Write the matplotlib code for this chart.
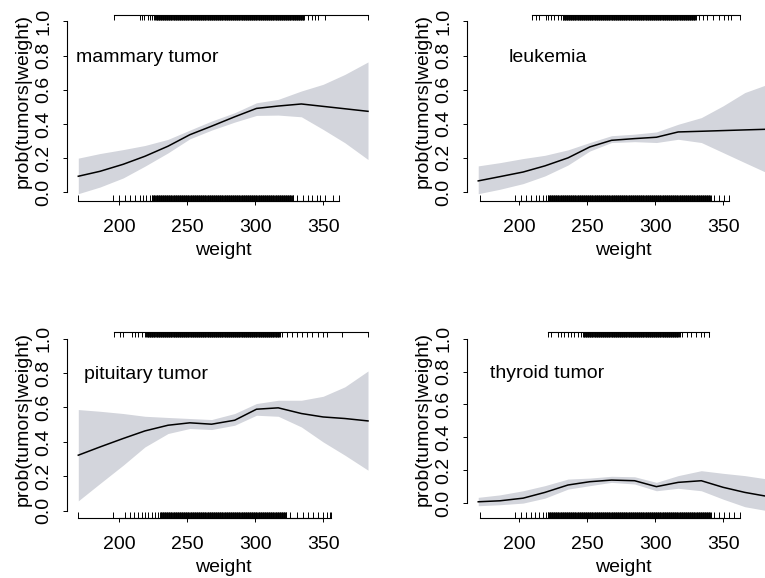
import numpy as np
import matplotlib
matplotlib.use("Agg")
import matplotlib.pyplot as plt

plt.rcParams['font.family'] = ['Liberation Sans', 'DejaVu Sans']

weight_grid = [170, 186, 203, 219, 236, 252, 268, 285, 301, 317, 334, 350, 366, 383]

mammary_fit = [0.094, 0.123, 0.164, 0.211, 0.27, 0.337, 0.387, 0.442, 0.491, 0.505, 0.517, 0.503, 0.489, 0.474]
mammary_upper = [0.20, 0.227, 0.25, 0.274, 0.31, 0.364, 0.417, 0.466, 0.524, 0.544, 0.593, 0.632, 0.69, 0.763]
mammary_lower = [-0.008, 0.031, 0.084, 0.153, 0.231, 0.313, 0.364, 0.411, 0.45, 0.452, 0.442, 0.368, 0.29, 0.192]

leukemia_fit = [0.065, 0.09, 0.117, 0.153, 0.20, 0.264, 0.303, 0.313, 0.321, 0.352, 0.356, 0.36, 0.364, 0.368]
leukemia_upper = [0.153, 0.172, 0.196, 0.215, 0.247, 0.29, 0.33, 0.339, 0.352, 0.397, 0.436, 0.505, 0.583, 0.632]
leukemia_lower = [-0.01, 0.016, 0.049, 0.094, 0.158, 0.24, 0.29, 0.295, 0.29, 0.309, 0.29, 0.231, 0.172, 0.11]

pituitary_fit = [0.323, 0.371, 0.42, 0.464, 0.497, 0.511, 0.503, 0.526, 0.59, 0.598, 0.565, 0.545, 0.536, 0.522]
pituitary_upper = [0.588, 0.578, 0.565, 0.549, 0.542, 0.536, 0.53, 0.565, 0.623, 0.642, 0.642, 0.665, 0.72, 0.812]
pituitary_lower = [0.058, 0.159, 0.265, 0.371, 0.449, 0.478, 0.472, 0.497, 0.555, 0.549, 0.487, 0.40, 0.323, 0.236]

thyroid_fit = [0.008, 0.014, 0.03, 0.065, 0.11, 0.13, 0.14, 0.136, 0.10, 0.126, 0.136, 0.096, 0.065, 0.04]
thyroid_upper = [0.035, 0.05, 0.075, 0.106, 0.146, 0.152, 0.163, 0.16, 0.126, 0.167, 0.197, 0.181, 0.167, 0.146]
thyroid_lower = [-0.016, -0.01, 0.0, 0.03, 0.085, 0.106, 0.126, 0.116, 0.075, 0.09, 0.075, 0.024, -0.022, -0.047]

# rug weights: isolated ticks plus the solid dense stretch (start, stop)
mammary_yes = [196.5, 215, 216.6, 218.6, 221, 223, 224.5, 339, 341.7, 344, 346.6, 351.5, 383]
mammary_yes_dense = (226, 336)
mammary_no = [170, 195.8, 200.2, 204.4, 208, 211.8, 215, 217.4, 219.9, 222.8,
              330.7, 335.5, 339.2, 341.7, 345.4, 347.8, 351.5, 357.6, 362]
mammary_no_dense = (224, 328)

leukemia_yes = [209.7, 212.7, 215, 219.5, 221.2, 223.6, 226, 228.5, 230.5,
                332, 335, 338, 342.8, 346.8, 350.5, 353.7, 356.1, 362.7]
leukemia_yes_dense = (232, 330)
leukemia_no = [171.2, 196.8, 201.2, 205.3, 209, 212.7, 215, 217.6, 220,
               343.2, 346.8, 350.5, 354.2]
leukemia_no_dense = (221, 341)

pituitary_yes = [196.6, 200.7, 203.2, 209.3, 211.8, 214.2, 216.7, 219.1,
                 319.6, 323.3, 327, 330.7, 334.3, 338, 341.7, 346.5, 350.2, 352.7, 363.7, 383.3]
pituitary_yes_dense = (220, 318)
pituitary_no = [170, 195.8, 204.4, 208, 211, 214.2, 216.7, 219.1, 221.5, 224, 226.5, 228.9,
                325.7, 330.6, 335.5, 339.2, 342.8, 346.5, 350.2, 352.7, 355.1, 356]
pituitary_no_dense = (230, 323)

thyroid_yes = [221.2, 223.6, 228.5, 231, 233.4, 235.9, 238.3, 240.7, 243.2, 245.6,
               320, 323.7, 326.1, 329.8, 333.5, 335.9, 339.5, 340]
thyroid_yes_dense = (247, 318)
thyroid_no = [171.2, 196.8, 201.7, 205.3, 209, 211.9, 215, 217.6, 220,
              343.2, 346.8, 350.5, 354.2, 357.8, 362.5]
thyroid_no_dense = (221, 341)

panels = [
    ("mammary tumor", 168, mammary_fit, mammary_upper, mammary_lower,
     mammary_yes, mammary_yes_dense, mammary_no, mammary_no_dense),
    ("leukemia", 192, leukemia_fit, leukemia_upper, leukemia_lower,
     leukemia_yes, leukemia_yes_dense, leukemia_no, leukemia_no_dense),
    ("pituitary tumor", 174, pituitary_fit, pituitary_upper, pituitary_lower,
     pituitary_yes, pituitary_yes_dense, pituitary_no, pituitary_no_dense),
    ("thyroid tumor", 178.5, thyroid_fit, thyroid_upper, thyroid_lower,
     thyroid_yes, thyroid_yes_dense, thyroid_no, thyroid_no_dense),
]

fig = plt.figure(figsize=(7.65, 5.78), dpi=100)
positions = [(0.0872, 0.653), (0.610, 0.653), (0.0872, 0.1043), (0.610, 0.1043)]
width, height = 0.409, 0.3218
rug_len = 0.03


def rug_values(isolated, dense):
    # dense stretches look solid in the original, so tick every half unit
    return sorted(list(isolated) + list(np.arange(dense[0], dense[1] + 0.5, 0.5)))


for (name, text_x, fit, upper, lower, yes, yes_dense, no, no_dense), pos in zip(panels, positions):
    ax = fig.add_axes([pos[0], pos[1], width, height])
    ax.fill_between(weight_grid, lower, upper, color='#d3d5dc', lw=0)
    ax.plot(weight_grid, fit, color='black', lw=1.1)

    # R style limits: 4% padding around the data range
    x0, x1 = min(weight_grid), max(weight_grid)
    xr = x1 - x0
    ax.set_xlim(x0 - 0.04 * xr, x1 + 0.04 * xr)
    lo, hi = min(0, min(lower)), max(1, max(upper))
    yr = hi - lo
    ax.set_ylim(lo - 0.04 * yr, hi + 0.04 * yr)

    trans = ax.get_xaxis_transform()
    top = rug_values(yes, yes_dense)
    bot = rug_values(no, no_dense)
    ax.vlines(top, 1 - rug_len, 1, transform=trans, color='black', lw=0.7, clip_on=False)
    ax.plot([min(top), max(top)], [1, 1], transform=trans, color='black', lw=0.8, clip_on=False)
    ax.vlines(bot, 0, rug_len, transform=trans, color='black', lw=0.7, clip_on=False)
    ax.plot([min(bot), max(bot)], [0, 0], transform=trans, color='black', lw=0.8, clip_on=False)

    ax.spines['top'].set_visible(False)
    ax.spines['right'].set_visible(False)
    ax.spines['left'].set_bounds(0, 1)
    ax.spines['bottom'].set_bounds(200, 350)
    for s in ax.spines.values():
        s.set_linewidth(0.8)

    ax.set_xticks([200, 250, 300, 350])
    ax.set_yticks([0, 0.2, 0.4, 0.6, 0.8, 1.0], ["0.0", "0.2", "0.4", "0.6", "0.8", "1.0"])
    ax.tick_params(axis='x', length=3, width=0.7, pad=10.5, labelsize=14)
    ax.tick_params(axis='y', length=3, width=0.7, pad=7.5, labelsize=14)
    for lbl in ax.get_yticklabels():
        lbl.set_rotation(90)
        lbl.set_va('center')
        lbl.set_ha('right')

    ax.set_xlabel("weight", fontsize=14, labelpad=4)
    ax.set_ylabel("prob(tumors|weight)", fontsize=14)
    ax.yaxis.set_label_coords(-0.111, 0.533)

    ax.text(text_x, 0.79, name, fontsize=14, va='center', ha='left')

fig.savefig("out.png", dpi=100)
